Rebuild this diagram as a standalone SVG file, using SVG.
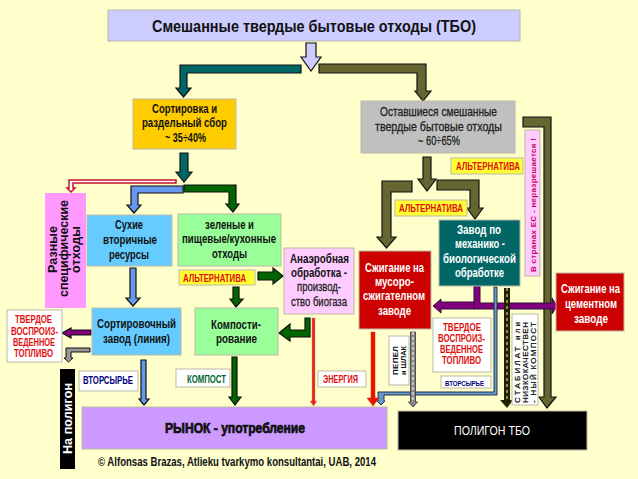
<svg xmlns="http://www.w3.org/2000/svg" width="638" height="479" viewBox="0 0 638 479">
<style>
text{font-family:"Liberation Sans",Arial,sans-serif;font-weight:bold;font-size:12.500px;fill:#111}
.n{stroke:#b9b9a8;stroke-width:1}
.r{fill:#e01010;font-size:10.500px}
.l{font-weight:normal;fill:#222;stroke:#222;stroke-width:.3}
.wt{fill:#fff}
.s8{font-size:8px;font-weight:normal;stroke:#111;stroke-width:.25}
.a{stroke:#111;stroke-width:1.200;stroke-linejoin:miter}
.teal{fill:#006666}.olive{fill:#666633}.grn{fill:#006600}.blu{fill:#6699EE}.pur{fill:#800080}
</style>
<rect width="638" height="479" fill="#FFFFCC"/>
<g id="connectors">
<polygon class="a" fill="#CCCCFF" points="306,43 316,43 316,57 321,57 311,71 301,57 306,57"/>
<polygon class="a teal" points="301,65 301,73 187,73 187,88 191,88 183.500,97 176,88 180,88 180,65"/>
<polygon class="a olive" points="319,64 426,64 426,91 431,91 423,101 415,91 417,91 417,73 319,73"/>
<polygon class="a teal" points="180,153 188,153 188,172 192,172 184,182 176,172 180,172"/>
<polygon fill="#fff" stroke="#c8102e" stroke-width="1.500" points="176,180 176,183 73,183 73,188 75,188 71,192 67,188 69,188 69,180"/>
<polygon class="a blu" points="183,186 183,193 138,193 138,205 141,205 134,213 127,205 131,205 131,186"/>
<polygon class="a grn" points="184,185 236,185 236,204 239,204 233,212 226,204 229,204 229,192 184,192"/>
<polygon class="a grn" points="258,272 273,272 273,268 283,276 273,284 273,280 258,280"/>
<polygon class="a grn" points="233,287 239,287 239,299 243,299 236,307 230,299 233,299"/>
<polygon class="a blu" points="130,268 136,268 136,298 140,298 133,306 126,298 130,298"/>
<polygon class="a grn" points="305,318 310,318 310,337 290,337 290,341 279,333 290,324 290,330 305,330"/>
<polygon fill="#EE2211" stroke="#c09080" stroke-width=".5" points="312,318 315,318 315,401 317,401 313.500,406 310,401 312,401"/>
<polygon class="a pur" points="91,330 91,335 71,335 71,338 62,333 71,328 71,330"/>
<polygon fill="#999" stroke="#111" stroke-width="1" points="90,348 90,352 71,352 71,358 73,358 68.500,362 64,358 66,358 66,348"/>
<polygon class="a blu" points="141,360 146,360 146,399 149,399 144,405 139,399 141,399"/>
<polygon class="a grn" points="232,357 237,357 237,397 241,397 235,405 229,397 232,397"/>
<polygon class="a olive" points="523,117 551,117 551,397 556,397 547,408 539,397 544,397 544,127 523,127"/>
<polygon class="a olive" points="423,157 431,157 431,179 436,179 427,191 418,179 423,179"/>
<polygon class="a olive" points="412,181 412,192 391,192 391,237 396,237 386.500,248 377,237 382,237 382,181"/>
<polygon class="a olive" points="437,180 479,180 479,208 483,208 475,219 467,208 470,208 470,190 437,190"/>
<polygon fill="#800080" stroke="#331133" stroke-width="1" points="474,302 474,309 441,309 441,313 433,306 441,299 441,302"/>
<polygon fill="#800080" stroke="#331133" stroke-width="1" points="474,284 480,284 480,303 552,303 552,298 557,306 552,314 552,309 474,309"/>
<polygon fill="#6699CC" stroke="#223344" stroke-width="1" points="494,287 497,287 497,395 384,395 384,401 385,401 381,405 377,401 378,401 378,392 494,392"/>
<polygon fill="#222200" points="504,288 510,288 510,400 513,400 507,408 500,400 504,400"/>
<line x1="507" y1="288" x2="507" y2="400" stroke="#8a8a55" stroke-width="2" stroke-dasharray="3 3"/>
<polygon fill="#888" stroke="#333" stroke-width=".8" points="410.500,332 415.500,332 415.500,402 417.500,402 413,407 408.500,402 410.500,402"/>
<line x1="413" y1="332" x2="413" y2="402" stroke="#eee" stroke-width="1.200" stroke-dasharray="3 2"/>
<polygon fill="#EE1100" stroke="#cc3311" stroke-width=".5" points="371,332 375,332 375,398 379,398 373,406 367,398 371,398"/>
</g>
<g id="title"><rect class="n" x="108" y="10" width="412" height="31" fill="#CCCCFF"/><text x="152" y="32" style="font-size:17px" textLength="324" lengthAdjust="spacingAndGlyphs">Смешанные  твердые бытовые отходы (ТБО)</text></g>
<g id="sort"><rect class="n" x="133" y="99" width="103" height="50" fill="#FFCC00"/><text x="152" y="113" textLength="65" lengthAdjust="spacingAndGlyphs">Сортировка и</text><text x="142" y="127" textLength="85" lengthAdjust="spacingAndGlyphs">раздельный сбор</text><text x="165" y="142" textLength="41" lengthAdjust="spacingAndGlyphs">~ 35÷40%</text></g>
<g id="rest"><rect class="n" x="361" y="101" width="154" height="52" fill="#C0C0C0"/><text class="l" x="380" y="116" textLength="117" lengthAdjust="spacingAndGlyphs">Оставшиеся смешанные</text><text class="l" x="375" y="131" textLength="127" lengthAdjust="spacingAndGlyphs">твердые бытовые отходы</text><text class="l" x="418" y="145" textLength="42" lengthAdjust="spacingAndGlyphs">~ 60÷65%</text></g>
<g id="alt1"><rect class="n" x="451" y="158" width="72" height="16" fill="#FFFF33"/><text class="r" x="456" y="170" textLength="64" lengthAdjust="spacingAndGlyphs">АЛЬТЕРНАТИВА</text></g>
<g id="alt2"><rect class="n" x="395" y="200" width="72" height="16" fill="#FFFF33"/><text class="r" x="399" y="212" textLength="64" lengthAdjust="spacingAndGlyphs">АЛЬТЕРНАТИВА</text></g>
<g id="eu"><rect class="n" x="525" y="130" width="15" height="146" fill="#FFCCFF"/><text transform="translate(536,272) rotate(-90)" style="font-size:8px;fill:#CC0066" textLength="134" lengthAdjust="spacing">В странах ЕС - неразрешается !</text></g>
<g id="specific"><rect x="45" y="193" width="41" height="115" fill="#FF99FF"/><text transform="translate(57,273) rotate(-90)" textLength="47" lengthAdjust="spacing">Разные</text><text transform="translate(68,297) rotate(-90)" textLength="97" lengthAdjust="spacing">специфические</text><text transform="translate(80,273) rotate(-90)" textLength="47" lengthAdjust="spacing">отходы</text></g>
<g id="dry"><rect class="n" x="87" y="215" width="85" height="51" fill="#66CCFF"/><text x="115" y="229" textLength="28" lengthAdjust="spacingAndGlyphs">Сухие</text><text x="103" y="244" textLength="54" lengthAdjust="spacingAndGlyphs">вторичные</text><text x="109" y="259" textLength="40" lengthAdjust="spacingAndGlyphs">ресурсы</text></g>
<g id="green"><rect class="n" x="178" y="214" width="103" height="52" fill="#99FF99"/><text x="205" y="229" textLength="49" lengthAdjust="spacingAndGlyphs">зеленые и</text><text x="182" y="243" textLength="94" lengthAdjust="spacingAndGlyphs">пищевые/кухонные</text><text x="212" y="258" textLength="35" lengthAdjust="spacingAndGlyphs">отходы</text></g>
<g id="alt3"><rect class="n" x="179" y="270" width="76" height="15" fill="#FFFF33"/><text class="r" x="183" y="282" textLength="63" lengthAdjust="spacingAndGlyphs">АЛЬТЕРНАТИВА</text></g>
<g id="anaerobic"><rect class="n" x="284" y="248" width="70" height="66" fill="#FFCCFF"/><text x="290" y="263" textLength="59" lengthAdjust="spacingAndGlyphs">Анаэробная</text><text x="291" y="277" textLength="56" lengthAdjust="spacingAndGlyphs">обработка -</text><text class="l" x="297" y="291" textLength="44" lengthAdjust="spacingAndGlyphs">производ-</text><text class="l" x="291" y="306" textLength="56" lengthAdjust="spacingAndGlyphs">ство биогаза</text></g>
<g id="sortplant"><rect class="n" x="92" y="308" width="89" height="47" fill="#66CCFF"/><text x="97" y="328" textLength="79" lengthAdjust="spacingAndGlyphs">Сортировочный</text><text x="103" y="343" textLength="67" lengthAdjust="spacingAndGlyphs">завод (линия)</text></g>
<g id="compost"><rect class="n" x="195" y="308" width="83" height="47" fill="#99FF99"/><text x="211" y="329" textLength="50" lengthAdjust="spacingAndGlyphs">Компости-</text><text x="216" y="343" textLength="41" lengthAdjust="spacingAndGlyphs">рование</text></g>
<g id="fuel1"><rect class="n" x="7" y="310" width="55" height="52" fill="#fff"/><text class="r" x="15" y="323" textLength="37" lengthAdjust="spacingAndGlyphs">ТВЕРДОЕ</text><text class="r" x="11" y="335" textLength="47" lengthAdjust="spacingAndGlyphs">ВОСПРОИЗ-</text><text class="r" x="13" y="346" textLength="42" lengthAdjust="spacingAndGlyphs">ВЕДЕННОЕ</text><text class="r" x="14" y="357" textLength="39" lengthAdjust="spacingAndGlyphs">ТОПЛИВО</text></g>
<g id="tolandfill"><rect x="60" y="369" width="15" height="100" fill="#000"/><text class="wt" transform="translate(72,454) rotate(-90)" textLength="71" lengthAdjust="spacing">На полигон</text></g>
<g id="secondary1"><rect class="n" x="79" y="371" width="59" height="20" fill="#fff"/><text x="83" y="384" style="font-size:10.500px;fill:#000080" textLength="50" lengthAdjust="spacingAndGlyphs">ВТОРСЫРЬЕ</text></g>
<g id="compostlabel"><rect class="n" x="176" y="369" width="54" height="18" fill="#fff"/><text x="187" y="383" style="font-size:10.500px;fill:#006633" textLength="39" lengthAdjust="spacingAndGlyphs">КОМПОСТ</text></g>
<g id="energy"><rect class="n" x="318" y="371" width="48" height="16" fill="#fff"/><text class="r" x="323" y="383" textLength="35" lengthAdjust="spacingAndGlyphs">ЭНЕРГИЯ</text></g>
<g id="market"><rect class="n" x="82" y="407" width="305" height="42" fill="#CC99FF"/><text x="165" y="433" style="font-size:14px;stroke:#111;stroke-width:.7" textLength="140" lengthAdjust="spacingAndGlyphs">РЫНОК - употребление</text></g>
<g id="landfill"><rect class="n" x="398" y="411" width="189" height="39" fill="#000"/><text class="wt" x="454" y="435" textLength="76" lengthAdjust="spacingAndGlyphs" style="font-weight:normal;font-size:13px">ПОЛИГОН ТБО</text></g>
<g id="incinerator"><rect class="n" x="359" y="251" width="72" height="78" fill="#CC0000"/><text class="wt" x="365" y="272" textLength="59" lengthAdjust="spacingAndGlyphs">Сжигание на</text><text class="wt" x="375" y="286" textLength="39" lengthAdjust="spacingAndGlyphs">мусоро-</text><text class="wt" x="363" y="300" textLength="62" lengthAdjust="spacingAndGlyphs">сжигателном</text><text class="wt" x="378" y="315" textLength="33" lengthAdjust="spacingAndGlyphs">заводе</text></g>
<g id="mbt"><rect class="n" x="439" y="220" width="81" height="66" fill="#006666"/><text class="wt" x="457" y="234" textLength="44" lengthAdjust="spacingAndGlyphs">Завод по</text><text class="wt" x="455" y="248" textLength="50" lengthAdjust="spacingAndGlyphs">механико -</text><text class="wt" x="443" y="263" textLength="73" lengthAdjust="spacingAndGlyphs">биологической</text><text class="wt" x="455" y="277" textLength="49" lengthAdjust="spacingAndGlyphs">обработке</text></g>
<g id="cement"><rect class="n" x="556" y="273" width="68" height="58" fill="#CC0000"/><text class="wt" x="561" y="293" textLength="59" lengthAdjust="spacingAndGlyphs">Сжигание на</text><text class="wt" x="565" y="308" textLength="52" lengthAdjust="spacingAndGlyphs">цементном</text><text class="wt" x="574" y="323" textLength="34" lengthAdjust="spacingAndGlyphs">заводе</text></g>
<g id="fuel2"><rect class="n" x="433" y="318" width="58" height="54" fill="#fff"/><text class="r" x="443" y="331" textLength="38" lengthAdjust="spacingAndGlyphs">ТВЕРДОЕ</text><text class="r" x="438" y="342" textLength="47" lengthAdjust="spacingAndGlyphs">ВОСПРОИЗ-</text><text class="r" x="440" y="353" textLength="43" lengthAdjust="spacingAndGlyphs">ВЕДЕННОЕ</text><text class="r" x="442" y="364" textLength="39" lengthAdjust="spacingAndGlyphs">ТОПЛИВО</text></g>
<g id="secondary2"><rect class="n" x="441" y="376" width="50" height="12" fill="#fff"/><text x="445" y="386" style="font-size:7.500px;fill:#000080" textLength="39" lengthAdjust="spacingAndGlyphs">ВТОРСЫРЬЕ</text></g>
<g id="ash"><rect class="n" x="389" y="336" width="20" height="49" fill="#fff"/><text transform="translate(398,375) rotate(-90)" style="font-size:8px" textLength="29" lengthAdjust="spacing">ПЕПЕЛ</text><text transform="translate(405.500,375) rotate(-90)" style="font-size:7px" textLength="29" lengthAdjust="spacingAndGlyphs">и ШЛАК</text></g>
<g id="stabilat"><rect class="n" x="512" y="314" width="26" height="91" fill="#fff"/><text class="s8" transform="translate(520,403) rotate(-90)" textLength="81" lengthAdjust="spacing">СТАБИЛАТ или</text><text class="s8" transform="translate(528,403) rotate(-90)" textLength="81" lengthAdjust="spacing">НИЗКОКАЧЕСТВЕН</text><text class="s8" transform="translate(536,403) rotate(-90)" textLength="81" lengthAdjust="spacing">- НЫЙ КОМПОСТ</text></g>
<text id="copyright" x="98" y="466" textLength="278" lengthAdjust="spacingAndGlyphs">© Alfonsas Brazas, Atlieku tvarkymo konsultantai, UAB, 2014</text>
</svg>
